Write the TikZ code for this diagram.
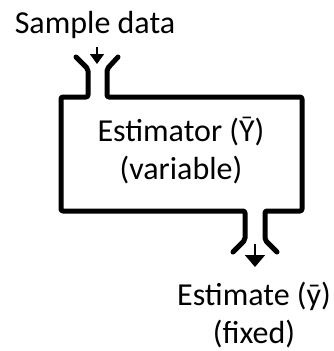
\documentclass[tikz,border=0pt]{standalone}
\usepackage{fontspec}
\setmainfont{Carlito}
\usepackage{tikz}
\usetikzlibrary{arrows.meta}

\begin{document}
\begin{tikzpicture}[
  x=1pt,y=-1pt,
  font=\fontsize{32}{38}\selectfont,
  wall/.style={line width=5pt,line join=round,line cap=round,rounded corners=2pt},
  lbl/.style={inner sep=0pt,align=center},
  ar/.style={-{Triangle[length=10pt,width=14pt]},line width=1.8pt}]
\useasboundingbox (0,0) rectangle (334,351);

% ---- labels ----
\node[lbl,anchor=base] (inp) at (95,33) {Sample data};
\node[lbl] (est) at (181,151) {Estimator (Ȳ)\\(variable)};
\node[lbl] (out) at (254,315) {Estimate (ȳ)\\(fixed)};

% ---- estimator box with inlet and outlet funnels ----
\draw[wall] (76,57) -- (88,69) -- (88,97) -- (61,97) -- (61,211)
  -- (245,211) -- (245,240) -- (233,252);
\draw[wall] (118,57) -- (107,69) -- (107,97) -- (302,97) -- (302,211)
  -- (265,211) -- (265,240) -- (277,252);

% ---- data in, estimate out ----
\coordinate (inA) at (97,47);  \coordinate (inB) at (97,64);
\coordinate (outA) at (255,244); \coordinate (outB) at (255,267);
\draw[ar] (inA) -- (inB);
\draw[ar,-{Triangle[length=12pt,width=20pt]}] (outA) -- (outB);
\end{tikzpicture}
\end{document}
